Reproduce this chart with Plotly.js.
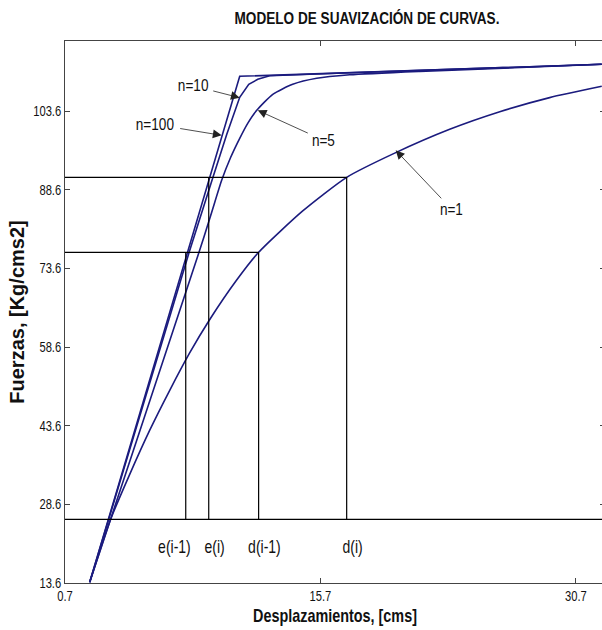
<!DOCTYPE html>
<html>
<head>
<meta charset="utf-8">
<script src="https://cdn.plot.ly/plotly-3.0.1.min.js"></script>
<style>
html, body { margin: 0; padding: 0; overflow: hidden; background: #fff; }
#chart { width: 610px; height: 630px; }
</style>
</head>
<body>
<div id="chart"></div>
<script>
// ---- Data ----
const n1X   = [2.15, 3.38, 4.50, 5.67, 6.85, 8.02, 9.20, 10.77, 12.07, 14.66, 17.24, 20.06, 23.29, 26.23, 29.16, 32.22];
const n1Y   = [13.73, 25.75, 34.34, 42.72, 50.37, 57.50, 63.88, 71.36, 76.70, 84.60, 91.01, 95.63, 100.17, 103.52, 106.22, 108.37];
const n5X   = [2.15, 8.55, 9.26, 9.90, 10.43, 10.96, 11.43, 11.96, 12.90, 14.07, 15.48, 17.42, 21.53, 32.22];
const n5Y   = [13.73, 76.51, 83.76, 90.44, 94.83, 98.45, 101.31, 103.79, 106.84, 108.75, 109.90, 110.57, 111.23, 112.57];
const n10X  = [2.15, 7.99, 9.37, 10.20, 10.96, 11.49, 12.02, 12.72, 17.42, 32.22];
const n10Y  = [13.73, 76.70, 90.82, 99.21, 106.27, 108.75, 109.71, 110.38, 110.95, 112.57];
const n100X = [2.15, 10.96, 32.22];
const n100Y = [13.73, 110.28, 112.57];

// reference (construction) lines
const baseLevel = 25.75;
const lowLevel  = 76.70;
const highLevel = 91.01;
const markX      = [7.79, 9.14, 12.07, 17.24];
const markTop    = [76.70, 91.01, 76.70, 91.01];
const markLabels = ['e(i-1)', 'e(i)', 'd(i-1)', 'd(i)'];
const markLabelX = [7.12, 9.49, 12.40, 17.56];
const markLabelY = 20.41;

// curve labels (arrow tip on curve)
const curveNames = ['n=10', 'n=100', 'n=5', 'n=1'];
const curveTipX  = [10.96, 9.90, 12.02, 20.12];
const curveTipY  = [106.20, 99.02, 103.79, 96.16];

// axes
const xRange = [0.7, 32.41];
const yRange = [13.6, 117.02];
const xTicks = [0.7, 15.7, 30.7];
const xTickText = ['0.7', '15.7', '30.7'];
const yTicks = [13.6, 28.6, 43.6, 58.6, 73.6, 88.6, 103.6];
const yTickText = ['13.6', '28.6', '43.6', '58.6', '73.6', '88.6', '103.6'];

// ---- Styles ----
const SANS = '"Liberation Sans", Arial, Helvetica, sans-serif';
const CURVE = '#1b1b7e';
const REF = '#000000';
const SQUEEZE = 0.8;   // horizontal condensing of the reference lettering

const traces = [];
function curve(x, y, shape) {
  traces.push({x: x, y: y, type: 'scatter', mode: 'lines', hoverinfo: 'skip',
    line: {color: CURVE, width: 1.6, shape: shape, smoothing: 0.6}, showlegend: false});
}
curve(n1X, n1Y, 'spline');
curve(n5X, n5Y, 'spline');
curve(n10X, n10Y, 'linear');
curve(n100X, n100Y, 'linear');

function ref(x, y) {
  traces.push({x: x, y: y, type: 'scatter', mode: 'lines', hoverinfo: 'skip',
    line: {color: REF, width: 1.2}, showlegend: false});
}
ref([xRange[0], xRange[1] + 1], [baseLevel, baseLevel]);
ref([xRange[0], markX[2]], [lowLevel, lowLevel]);
ref([xRange[0], markX[3]], [highLevel, highLevel]);
for (let i = 0; i < markX.length; i++) {
  ref([markX[i], markX[i]], [baseLevel, markTop[i]]);
}

const annotations = [];
for (let i = 0; i < markLabels.length; i++) {
  annotations.push({x: markLabelX[i], y: markLabelY, xref: 'x', yref: 'y', text: markLabels[i],
    showarrow: false, font: {family: SANS, size: 17.5, color: '#111'}});
}
const offsets = [[-47, -12], [-67, -11], [66, 30], [56, 59]];
for (let i = 0; i < curveNames.length; i++) {
  annotations.push({x: curveTipX[i], y: curveTipY[i], xref: 'x', yref: 'y', text: curveNames[i],
    showarrow: true, ax: offsets[i][0], ay: offsets[i][1], arrowhead: 2, arrowsize: 2.2,
    arrowwidth: 0.8, arrowcolor: '#222', standoff: 0, startstandoff: 0,
    font: {family: SANS, size: 17, color: '#111'}});
}

const axisCommon = {
  showgrid: false, zeroline: false, showline: true, linecolor: '#444', linewidth: 1,
  mirror: 'ticks', ticks: 'inside', ticklen: 5, tickcolor: '#444', tickmode: 'array',
  tickfont: {family: SANS, size: 14, color: '#111'}
};

const layout = {
  width: 610, height: 630,
  margin: {l: 65, r: 5, t: 41, b: 47},
  paper_bgcolor: '#fff', plot_bgcolor: '#fff',
  title: {text: 'MODELO DE SUAVIZACIÓN DE CURVAS.', x: 367 / 610, xref: 'container', xanchor: 'center',
    y: 1 - 18 / 630, yref: 'container', yanchor: 'middle',
    font: {family: SANS, size: 17, weight: 'bold', color: '#111'}},
  xaxis: Object.assign({}, axisCommon, {range: xRange, tickvals: xTicks, ticktext: xTickText,
    title: {text: 'Desplazamientos, [cms]', standoff: 6, font: {family: SANS, size: 18, weight: 'bold', color: '#111'}}}),
  yaxis: Object.assign({}, axisCommon, {range: yRange, tickvals: yTicks, ticktext: yTickText,
    title: {text: 'Fuerzas, [Kg/cms2]', standoff: 2, font: {family: SANS, size: 20, weight: 'bold', color: '#111'}}}),
  annotations: annotations,
  showlegend: false
};

// condense horizontal lettering around each text's own anchor point
function condense() {
  const sel = '#chart .gtitle, #chart .xtick text, #chart .ytick text, #chart .xtitle, #chart .annotation-text';
  document.querySelectorAll(sel).forEach(function (t) {
    const X = parseFloat(t.getAttribute('x')) || 0;
    const prev = t.getAttribute('transform') || '';
    t.setAttribute('transform', prev + ' translate(' + X + ',0) scale(' + SQUEEZE + ',1) translate(' + (-X) + ',0)');
  });
  // the y title sits a little closer to the tick labels in the reference
  document.querySelectorAll('#chart .ytitle').forEach(function (t) {
    const prev = t.getAttribute('transform') || '';
    t.setAttribute('transform', 'translate(6,0) ' + prev);
  });
}

Plotly.newPlot('chart', traces, layout, {staticPlot: true, displayModeBar: false}).then(condense);
</script>
</body>
</html>
